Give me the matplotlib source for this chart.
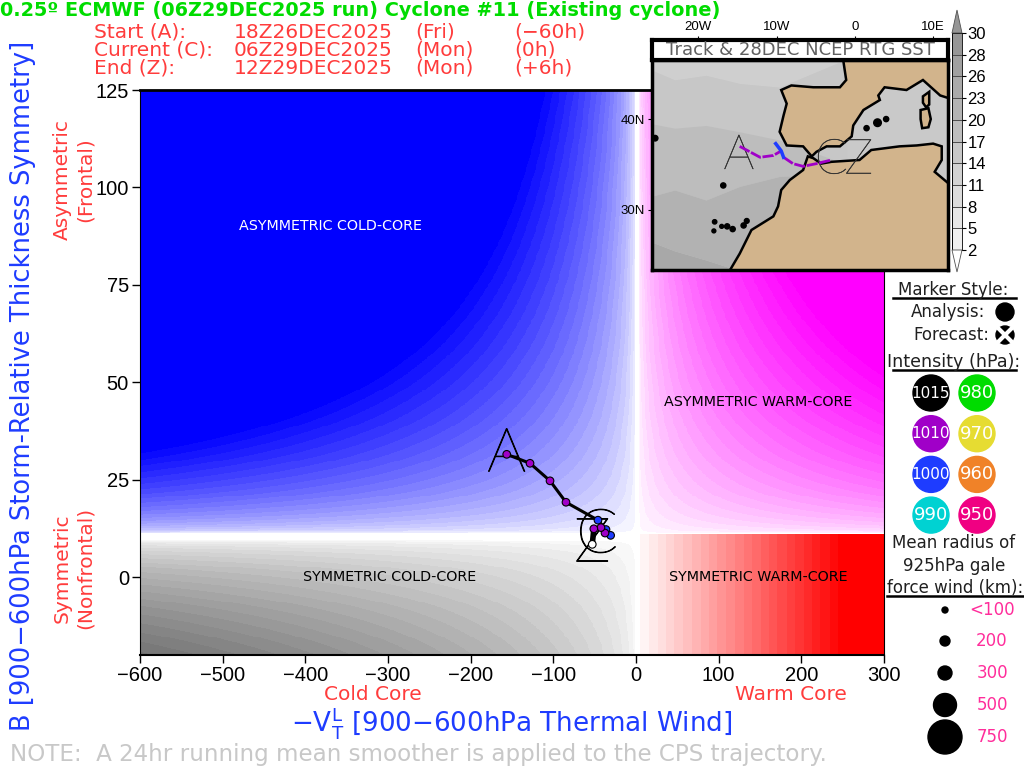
import matplotlib
matplotlib.use('Agg')
import matplotlib.pyplot as plt
import matplotlib.patheffects as pe
import numpy as np
from matplotlib.patches import Circle, Polygon

plt.rcParams['font.family'] = ['Liberation Sans', 'DejaVu Sans']

# cyclone phase track
track_x = [-156.4, -128.2, -104, -84.7, -46, -36.3, -30.7, -37.5, -42.4, -51, -52.9]
track_y = [31.5, 29.2, 24.7, 19.2, 14.6, 12.2, 10.7, 11.3, 12.7, 12.4, 8.4]
track_c = ['#a000c8', '#a000c8', '#a000c8', '#a000c8', '#1e3cff', '#1e3cff', '#1e3cff',
           '#a000c8', '#a000c8', '#a000c8', 'white']
xticks = [-600, -500, -400, -300, -200, -100, 0, 100, 200, 300]
yticks = [0, 25, 50, 75, 100, 125]

# map
eur_lon = [-1.5, -1.1, -1.9, -5.3, -8.1, -9.4, -8.7, -9.1, -9.6, -8.7, -6.6, -5.5, -4.9, -3.6,
           -1.9, -0.4, -0.2, 1.1, 3.2, 3.0, 3.8, 6.6, 8.7, 10.9, 12, 12]
eur_lat = [46.6, 44.3, 43.5, 43.5, 43.7, 43.2, 41.7, 40.4, 38.6, 37.1, 37.0, 35.9, 36.4, 37.0,
           37.0, 38.1, 39.3, 41.0, 42.1, 42.6, 43.5, 43.2, 44.3, 42.6, 42.3, 46.6]
afr_lon = [-16.0, -14.7, -13.2, -10.4, -9.8, -9.4, -8.3, -6.6, -6.0, -5.3, -4.3, -3.0, 0.6, 2.1,
           5.7, 7.9, 10.0, 11.1, 11.1, 10.2, 12, 12]
afr_lat = [23.3, 25.2, 27.8, 29.3, 30.4, 32.2, 33.3, 34.4, 35.9, 35.7, 35.1, 35.3, 35.5, 36.6,
           37.0, 37.1, 37.3, 37.0, 35.5, 34.2, 32.9, 23.3]
sard_lon = [8.4, 9.4, 9.7, 9.4, 8.6, 8.4]
sard_lat = [41, 41.2, 40, 39.1, 39, 40]
cors_lon = [8.7, 9.5, 9.5, 9.1, 8.7]
cors_lat = [42.5, 43, 41.6, 41.3, 41.8]
isl_lon = [2.9, 4.0, 1.5, -25.5, -16.8, -17.9, -18, -17, -16.3, -15.6, -14.2, -13.8]
isl_lat = [39.6, 40, 39, 37.9, 32.7, 28.7, 27.7, 28.2, 28.2, 27.9, 28.3, 28.8]
isl_size = [30, 14, 14, 16, 14, 10, 8, 8, 14, 14, 14, 12]
path1_lon = [-14.7, -13.4, -12.1, -10.4, -9.4]
path1_lat = [37.0, 36.4, 35.8, 36.0, 36.5]
path2_lon = [-10.1, -9.4, -9.1]
path2_lat = [37.3, 36.5, 35.8]
path3_lon = [-9.1, -7.9, -6.6, -4.9, -3.0]
path3_lat = [35.8, 35.1, 34.8, 35.1, 35.5]
sst_lon = [-26, -23, -19, -14.7, -9.6, -1]
sst_edge1 = [45.4, 44.3, 44.8, 43.9, 43.5, 46.6]
sst_edge2 = [39.5, 39, 39.3, 38.6, 37.7, 35]
sst_edge3 = [31.5, 32.2, 31.1, 32.6, 33.7, 34]
sst_edge4 = [26.5, 25.5, 24.5, 23.3, 23.3, 23.3]
sst_cols = ['#cfcfcf', '#c7c7c7', '#bdbdbd', '#b2b2b2', '#a8a8a8']

# colour bar
sst_levels = [2, 5, 8, 11, 14, 17, 20, 23, 26, 28, 30]
sst_bar = ['#f0f0f0', '#e6e6e6', '#dcdcdc', '#d2d2d2', '#c8c8c8', '#bebebe', '#b4b4b4',
           '#aaaaaa', '#a0a0a0', '#969696']

# legend
hpa_labels = ['1015', '1010', '1000', '990', '980', '970', '960', '950']
hpa_cols = ['#000000', '#a000c8', '#1e3cff', '#00d2d2', '#00dc00', '#e6dc32', '#f08228', '#f00082']
radius_labels = ['<100', '200', '300', '500', '750']

RED = '#ff3c3c'
BLUE = '#1e3cff'
PINK = '#ff2d9b'
DV = 'DejaVu Sans'


def shade():
    x = np.linspace(-600, 300, 901)
    y = np.linspace(-20, 125, 581)
    X, Y = np.meshgrid(x, y)
    img = np.ones(X.shape + (3,))
    up = Y >= 11

    t = np.sqrt(np.abs(X) * np.clip(Y - 11, 0, None) / 13000.0)
    t = np.clip(np.round(t * 24) / 24, 0, 1)
    m = up & (X < -1)
    img[m, 0] = 1 - t[m]
    img[m, 1] = 1 - t[m]

    t = np.sqrt(np.clip(X - 3, 0, None) * np.clip(Y - 11, 0, None) / 12500.0)
    t = np.clip(np.round(t * 24) / 24, 0, 1)
    m = up & (X >= 0)
    img[m, 1] = 1 - t[m]

    t = np.clip(np.round(X / 250.0 * 24) / 24, 0, 1)
    m = (Y < 11) & (X >= 0)
    img[m, 1] = 1 - t[m]
    img[m, 2] = 1 - t[m]

    t = 0.0041 * np.sqrt(np.abs(X) * np.clip(9.3 - Y, 0, None))
    t = np.round(t * 40) / 40
    m = (Y < 9.3) & (X < 0)
    img[m, 0] = 1 - t[m]
    img[m, 1] = 1 - t[m]
    img[m, 2] = 1 - t[m]
    return img


fig = plt.figure(figsize=(10.24, 7.68), dpi=100)


def px_axes(x0, y0, x1, y1, **kw):
    return fig.add_axes([x0 / 1024, 1 - y1 / 768, (x1 - x0) / 1024, (y1 - y0) / 768], **kw)


def big_letter(axes, x, y, s, size, col='black', sw=0.7):
    axes.text(x, y, s, fontsize=size, ha='center', va='center', zorder=2.5, color=col,
              fontweight='light', family='Lato',
              path_effects=[pe.withStroke(linewidth=sw, foreground=col)])


# main diagram
ax = px_axes(140, 90, 884, 655)
ax.imshow(shade(), extent=[-600, 300, -20, 125], origin='lower', aspect='auto', interpolation='nearest')
ax.set_xlim(-600, 300)
ax.set_ylim(-20, 125)
ax.set_xticks(xticks)
ax.set_yticks(yticks)
ax.set_xticklabels([str(v).replace('-', '\u2212') for v in xticks])
ax.tick_params(length=6, width=1, labelsize=14.5, pad=2)
for s in ['right', 'left']:
    ax.spines[s].set_linewidth(0.8)
ax.spines['top'].set_linewidth(2)
ax.spines['bottom'].set_linewidth(1.5)

ax.text(-370, 90, 'ASYMMETRIC COLD-CORE', color='white', fontsize=10.3, ha='center', va='center', family=DV)
ax.text(148, 45, 'ASYMMETRIC WARM-CORE', color='black', fontsize=10.3, ha='center', va='center', family=DV)
ax.text(-298, 0, 'SYMMETRIC COLD-CORE', color='black', fontsize=10.3, ha='center', va='center', family=DV)
ax.text(148, 0, 'SYMMETRIC WARM-CORE', color='black', fontsize=10.3, ha='center', va='center', family=DV)

ax.plot(track_x, track_y, color='black', lw=2.2, zorder=3)
ax.plot(track_x[-2:], track_y[-2:], color='black', lw=4, zorder=3)
ax.scatter(track_x, track_y, c=track_c, edgecolors='black', s=30, linewidths=0.8, zorder=4)
big_letter(ax, track_x[0], track_y[0], 'A', 44)
big_letter(ax, -47, 10.7, 'C', 44)
big_letter(ax, track_x[-1], track_y[-1], 'Z', 44)

# overlay in pixel coordinates for titles and side legend
ov = fig.add_axes([0, 0, 1, 1], zorder=5)
ov.set_xlim(0, 1024)
ov.set_ylim(768, 0)
ov.axis('off')

ov.text(0, 10, '0.25\u00ba ECMWF (06Z29DEC2025 run) Cyclone #11 (Existing cyclone)', color='#00dc00',
        fontsize=13.9, fontweight='bold', va='center', family=DV)
start_cols = ['Start (A):', 'Current (C):', 'End (Z):']
date_cols = ['18Z26DEC2025', '06Z29DEC2025', '12Z29DEC2025']
day_cols = ['(Fri)', '(Mon)', '(Mon)']
lead_cols = ['(\u221260h)', '(0h)', '(+6h)']
for i, yy in enumerate([32, 50, 68]):
    ov.text(94, yy, start_cols[i], color=RED, fontsize=14.5, va='center', family=DV)
    ov.text(234, yy, date_cols[i], color=RED, fontsize=14.5, va='center', family=DV)
    ov.text(415, yy, day_cols[i], color=RED, fontsize=14.5, va='center', family=DV)
    ov.text(514, yy, lead_cols[i], color=RED, fontsize=14.5, va='center', family=DV)

ov.text(23, 386, 'B [900\u2212600hPa Storm-Relative Thickness Symmetry]', color=BLUE, fontsize=18.5,
        rotation=90, ha='center', va='center', family=DV)
ov.text(62, 180, 'Asymmetric', color=RED, fontsize=14.5, rotation=90, ha='center', va='center', family=DV)
ov.text(85, 180, '(Frontal)', color=RED, fontsize=14.5, rotation=90, ha='center', va='center', family=DV)
ov.text(62, 568, 'Symmetric', color=RED, fontsize=14.5, rotation=90, ha='center', va='center', family=DV)
ov.text(85, 568, '(Nonfrontal)', color=RED, fontsize=14.5, rotation=90, ha='center', va='center', family=DV)
ov.text(373, 694, 'Cold Core', color=RED, fontsize=14.5, ha='center', va='center', family=DV)
ov.text(791, 694, 'Warm Core', color=RED, fontsize=14.5, ha='center', va='center', family=DV)
ov.text(512, 723, '\u2212V$_{\\mathrm{T}}^{\\mathrm{L}}$ [900\u2212600hPa Thermal Wind]', color=BLUE, fontsize=18.8,
        ha='center', va='center', family=DV)
ov.text(10, 754, 'NOTE:  A 24hr running mean smoother is applied to the CPS trajectory.', color='#c8c8c8',
        fontsize=16.6, va='center', family=DV)

# map inset
mp = px_axes(652, 60, 948, 270, zorder=3)
mp.set_xlim(-25.9, 11.9)
mp.set_ylim(23.4, 46.5)
mp.set_facecolor('#c9c9c9')
mp.fill_between(sst_lon, sst_edge1, 46.6, color=sst_cols[0], lw=0)
mp.fill_between(sst_lon, sst_edge2, sst_edge1, color=sst_cols[1], lw=0)
mp.fill_between(sst_lon, sst_edge3, sst_edge2, color=sst_cols[2], lw=0)
mp.fill_between(sst_lon, sst_edge4, sst_edge3, color=sst_cols[3], lw=0)
mp.fill_between(sst_lon, 23.3, sst_edge4, color=sst_cols[4], lw=0)
land = '#d2b48c'
for lon, lat in [(eur_lon, eur_lat), (afr_lon, afr_lat), (sard_lon, sard_lat), (cors_lon, cors_lat)]:
    mp.add_patch(Polygon(np.column_stack([lon, lat]), closed=True, fc=land, ec='black', lw=1.8, zorder=2))
mp.scatter(isl_lon, isl_lat, s=isl_size, c='black', zorder=3)
mp.plot(path1_lon, path1_lat, color='#a000c8', lw=2, ls=(0, (4, 0.6)), zorder=5)
mp.plot(path3_lon, path3_lat, color='#a000c8', lw=2, ls=(0, (4, 0.6)), zorder=5)
mp.plot(path2_lon, path2_lat, color=BLUE, lw=2.5, zorder=6)
big_letter(mp, path1_lon[0] - 0.1, 36.0, 'A', 35, '#303030', 0.3)
big_letter(mp, path3_lon[-1], 35.5, 'C', 35, '#303030', 0.3)
big_letter(mp, 0.5, 35.5, 'Z', 35, '#303030', 0.3)
mp.set_xticks([])
mp.set_yticks([30, 40])
mp.set_yticklabels(['30N', '40N'], fontsize=9.5)
mp.tick_params(axis='y', length=3, pad=2)
for s in mp.spines.values():
    s.set_linewidth(2.5)

hd = px_axes(652, 40, 948, 60, zorder=3)
hd.set_xlim(-25.9, 11.9)
hd.set_ylim(0, 1)
hd.set_yticks([])
hd.xaxis.tick_top()
hd.set_xticks([-20, -10, 0, 10])
hd.set_xticklabels(['20W', '10W', '0', '10E'], fontsize=9.5)
hd.tick_params(axis='x', length=3, pad=2)
for s in hd.spines.values():
    s.set_linewidth(3)
hd.text(0.5, 0.5, 'Track & 28DEC NCEP RTG SST', transform=hd.transAxes, fontsize=13, color='#606060',
        ha='center', va='center', family=DV)

# colour bar
cb = px_axes(952, 33, 962, 250, zorder=3)
cb.pcolormesh([0, 1], np.arange(len(sst_levels)), np.arange(len(sst_bar)).reshape(-1, 1),
              cmap=matplotlib.colors.ListedColormap(sst_bar), edgecolors='#505050', linewidth=0.5)
cb.set_xlim(0, 1)
cb.set_ylim(0, len(sst_levels) - 1)
cb.set_xticks([])
cb.yaxis.tick_right()
cb.set_yticks(np.arange(len(sst_levels)))
cb.set_yticklabels(sst_levels, fontsize=12)
cb.tick_params(axis='y', length=3, pad=1, width=0.8)
for s in cb.spines.values():
    s.set_linewidth(0.6)
ov.add_patch(Polygon([(952, 33), (962, 33), (957, 10)], fc='#969696', ec='#505050', lw=0.6))
ov.add_patch(Polygon([(952, 250), (962, 250), (957, 272)], fc='white', ec='#505050', lw=0.6))


# side legend
def head(x, y, s, line=None, size=12):
    ov.text(x, y, s, fontsize=size, ha='center', va='center', color='#202020', family=DV)
    if line:
        ov.plot(line, [y + 8, y + 8], color='black', lw=1.8)


head(953, 290, 'Marker Style:', (893, 1016))
ov.text(985, 312, 'Analysis:', fontsize=12, ha='right', va='center', color='#202020', family=DV)
ov.text(989, 335, 'Forecast:', fontsize=12, ha='right', va='center', color='#202020', family=DV)
ov.add_patch(Circle((1005, 312), 9, color='black'))
ov.add_patch(Circle((1005, 335), 9, color='black'))
ov.plot([999, 1011], [329, 341], color='white', lw=3)
ov.plot([999, 1011], [341, 329], color='white', lw=3)
head(954, 362, 'Intensity (hPa):', (893, 1016), size=12.6)

for i, (lab, col) in enumerate(zip(hpa_labels, hpa_cols)):
    cx = 931 if i < 4 else 977
    cy = 393 + 40.7 * (i % 4)
    ov.add_patch(Circle((cx, cy), 18, color=col))
    ov.text(cx, cy, lab, color='white', fontsize=13 if len(lab) == 3 else 11, ha='center', va='center', family=DV)

head(954, 543, 'Mean radius of')
head(954, 566, '925hPa gale')
head(955, 588, 'force wind (km):', (887, 1024))
for yy, r, lab in zip([610, 641, 673, 705, 737], [3, 5, 7, 11.5, 17], radius_labels):
    ov.add_patch(Circle((945, yy), r, color='black'))
    ov.text(992, yy, lab, color=PINK, fontsize=12, ha='center', va='center', family=DV)

fig.savefig('out.png', dpi=100)
